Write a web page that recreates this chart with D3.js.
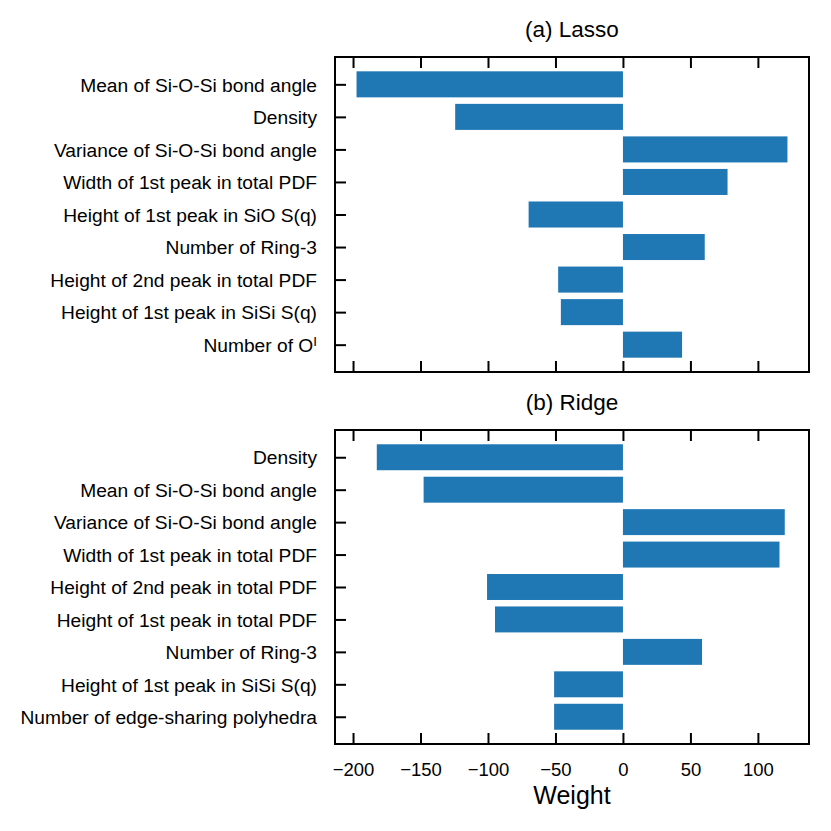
<!DOCTYPE html>
<html>
<head>
<meta charset="utf-8">
<script src="https://cdn.jsdelivr.net/npm/d3@7"></script>
<style>
  html, body { margin: 0; padding: 0; background: #fff; }
  svg { display: block; font-family: "Liberation Sans", Arial, Helvetica, sans-serif; }
</style>
</head>
<body>
<svg id="chart" width="831" height="831"></svg>
<script>
// ---- data ----
const lassoLabels = [
  "Mean of Si-O-Si bond angle",
  "Density",
  "Variance of Si-O-Si bond angle",
  "Width of 1st peak in total PDF",
  "Height of 1st peak in SiO S(q)",
  "Number of Ring-3",
  "Height of 2nd peak in total PDF",
  "Height of 1st peak in SiSi S(q)",
  "Number of O^I"
];
const lassoWeights = [-197.4, -124.3, 121.9, 77.5, -69.9, 60.6, -48.0, -46.0, 43.8];

const ridgeLabels = [
  "Density",
  "Mean of Si-O-Si bond angle",
  "Variance of Si-O-Si bond angle",
  "Width of 1st peak in total PDF",
  "Height of 2nd peak in total PDF",
  "Height of 1st peak in total PDF",
  "Number of Ring-3",
  "Height of 1st peak in SiSi S(q)",
  "Number of edge-sharing polyhedra"
];
const ridgeWeights = [-182.4, -147.7, 119.9, 116.0, -100.7, -94.8, 58.6, -51.0, -51.0];

const xTicks = [-200, -150, -100, -50, 0, 50, 100];
const panelTitles = ["(a) Lasso", "(b) Ridge"];
const xLabel = "Weight";

// ---- layout ----
const svg = d3.select("#chart");
const left = 335, right = 809;
const panels = [
  { top: 57, bottom: 372, labels: lassoLabels, values: lassoWeights, title: panelTitles[0], showX: false },
  { top: 430, bottom: 744, labels: ridgeLabels, values: ridgeWeights, title: panelTitles[1], showX: true }
];
const barColor = "#1f77b4";
const tickLen = 11;
const fontSize = 18.5;
const yFontSize = 19.2;

const all = lassoWeights.concat(ridgeWeights);
const dMin = Math.min(0, d3.min(all)), dMax = Math.max(0, d3.max(all));
const pad = (dMax - dMin) * 0.05;
const x = d3.scaleLinear().domain([dMin - pad, dMax + pad]).range([left, right]);

panels.forEach(p => {
  const n = p.labels.length;
  const half = 0.4;
  const yPad = ((n - 1) + 2 * half) * 0.05;
  const y = d3.scaleLinear()
    .domain([-half - yPad, (n - 1) + half + yPad])
    .range([p.top, p.bottom]);

  const g = svg.append("g");

  // bars
  g.selectAll("rect.bar")
    .data(p.values)
    .enter().append("rect")
    .attr("class", "bar")
    .attr("x", d => x(Math.min(0, d)))
    .attr("width", d => Math.abs(x(d) - x(0)))
    .attr("y", (d, i) => y(i - half))
    .attr("height", (d, i) => y(i + half) - y(i - half))
    .attr("fill", barColor);

  // x ticks (inward, bottom and top)
  const xb = d3.axisBottom(x).tickValues(xTicks).tickSizeInner(-tickLen).tickSizeOuter(0)
    .tickPadding(tickLen + 8)
    .tickFormat(p.showX ? d3.format("") : () => "");
  const axB = g.append("g").attr("transform", `translate(0,${p.bottom})`).call(xb);
  axB.select(".domain").remove();
  axB.selectAll(".tick line").attr("stroke", "#000").attr("stroke-width", 2);
  axB.selectAll(".tick text").attr("font-size", fontSize).attr("fill", "#000")
    .attr("font-family", "Liberation Sans, Arial, sans-serif")
    .text(d => p.showX ? (d < 0 ? "\u2212" + Math.abs(d) : String(d)) : "");

  const xt = d3.axisTop(x).tickValues(xTicks).tickSizeInner(-tickLen).tickSizeOuter(0).tickFormat(() => "");
  const axT = g.append("g").attr("transform", `translate(0,${p.top})`).call(xt);
  axT.select(".domain").remove();
  axT.selectAll(".tick line").attr("stroke", "#000").attr("stroke-width", 2);

  // y ticks (inward, left)
  const ya = d3.axisLeft(y).tickValues(d3.range(n)).tickSizeInner(-tickLen).tickSizeOuter(0)
    .tickPadding(tickLen + 7).tickFormat(() => "");
  const axL = g.append("g").attr("transform", `translate(${left},0)`).call(ya);
  axL.select(".domain").remove();
  axL.selectAll(".tick line").attr("stroke", "#000").attr("stroke-width", 2);
  axL.selectAll(".tick text").each(function(d) {
    const t = d3.select(this)
      .attr("font-size", yFontSize).attr("fill", "#000")
      .attr("font-family", "Liberation Sans, Arial, sans-serif")
      .attr("dy", "0.35em");
    const parts = p.labels[d].split("^");
    t.text(null);
    t.append("tspan").text(parts[0]);
    if (parts.length > 1) {
      t.append("tspan").attr("dy", "-0.45em").attr("font-size", yFontSize * 0.7).text(parts[1]);
    }
  });

  // frame
  g.append("rect")
    .attr("x", left).attr("y", p.top)
    .attr("width", right - left).attr("height", p.bottom - p.top)
    .attr("fill", "none").attr("stroke", "#000").attr("stroke-width", 2);

  // title
  g.append("text")
    .attr("x", (left + right) / 2).attr("y", p.top - 20)
    .attr("text-anchor", "middle")
    .attr("font-size", 22.5).attr("fill", "#000")
    .text(p.title);

  if (p.showX) {
    g.append("text")
      .attr("x", (left + right) / 2).attr("y", 804)
      .attr("text-anchor", "middle")
      .attr("font-size", 25).attr("fill", "#000")
      .text(xLabel);
  }
});
</script>
</body>
</html>
